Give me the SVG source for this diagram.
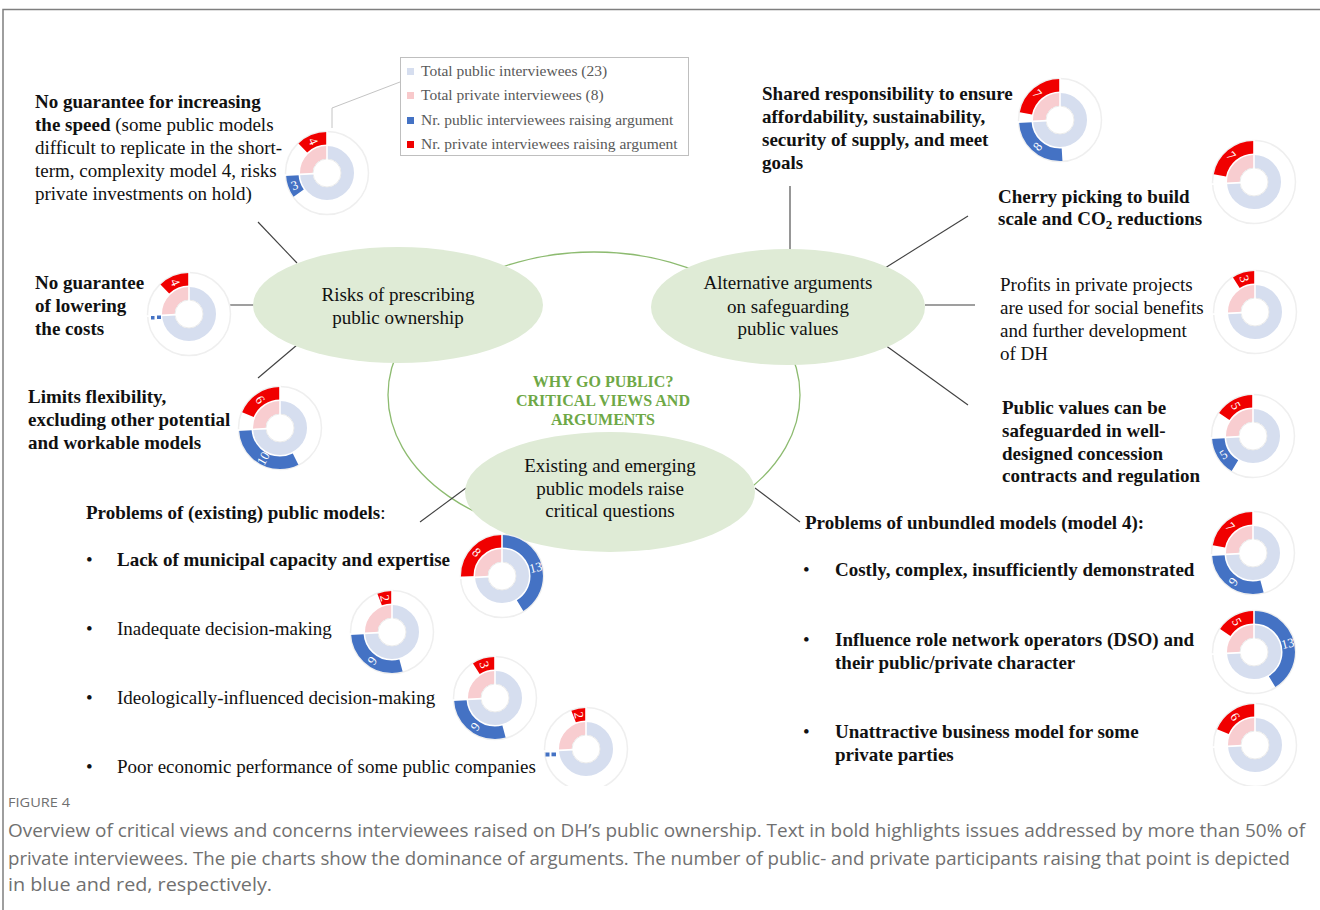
<svg xmlns="http://www.w3.org/2000/svg" xmlns:xlink="http://www.w3.org/1999/xlink" width="1320" height="910" viewBox="0 0 1320 910">
  <style>
    .t { font-family: "Liberation Serif", "Times New Roman", serif; font-size: 19px; fill: #111; }
    .b { font-weight: bold; }
    .c { text-anchor: middle; }
    .green { fill: #6EA846; font-size: 16px; font-weight: bold; }
    .leg { font-family: "Liberation Serif", "Times New Roman", serif; font-size: 15.5px; fill: #595959; }
    .lbl { font-family: "Liberation Serif", "Times New Roman", serif; font-size: 13px; fill: #fff; text-anchor: middle; dominant-baseline: central; }
    .conn { stroke: #404040; stroke-width: 1.1; fill: none; }
    .hub { fill: #DFEBD6; }
    .ring { fill: none; stroke-width: 12.5; }
    .red { stroke: #F00000; }
    .blue { stroke: #4472C4; }
    .cap { font-family: "Open Sans", "Liberation Sans", sans-serif; fill: #707070; }
  </style>
  <defs>
    <clipPath id="fig-area"><rect x="0" y="0" width="1320" height="786"/></clipPath>
    <!-- doughnut base: faint outline, inner ring (public 23 / private 8) and hole -->
    <g id="donut-base">
      <circle r="41.5" fill="#fff" stroke="#efefef" stroke-width="1.5"/>
      <circle r="20.5" fill="none" stroke="#D6DEEF" stroke-width="13" pathLength="31" stroke-dasharray="23 8" transform="rotate(-90)"/>
      <circle r="20.5" fill="none" stroke="#F8CDD0" stroke-width="13" pathLength="31" stroke-dasharray="8 23" stroke-dashoffset="-23" transform="rotate(-90)"/>
      <circle r="14" fill="#fff" stroke="#ebebeb" stroke-width="1"/>
    </g>
    <!-- white separators at 12 o'clock and at the public/private boundary -->
    <g id="donut-sep" stroke="#fff" stroke-width="1.6">
      <line x1="0" y1="-13" x2="0" y2="-42.5"/>
      <line x1="-12.98" y1="0.66" x2="-42.45" y2="2.15"/>
    </g>
  </defs>

  <rect width="1320" height="910" fill="#fff"/>
  <!-- figure frame -->
  <path d="M3,910 V9.5 H1320" fill="none" stroke="#7f7f7f" stroke-width="1.5"/>

  <g clip-path="url(#fig-area)">
    <!-- connectors -->
    <g id="connectors">
      <ellipse cx="594" cy="395" rx="206" ry="143" fill="none" stroke="#8DBB70" stroke-width="1.3"/>
      <line class="conn" x1="258" y1="222" x2="297" y2="263"/>
      <line class="conn" x1="220" y1="305" x2="254" y2="305"/>
      <line class="conn" x1="258" y1="378" x2="297" y2="345"/>
      <line class="conn" x1="790" y1="186" x2="790" y2="251"/>
      <line class="conn" x1="885" y1="268" x2="968" y2="216"/>
      <line class="conn" x1="925" y1="305" x2="975" y2="305"/>
      <line class="conn" x1="885" y1="345" x2="968" y2="405"/>
      <line class="conn" x1="420" y1="522" x2="466" y2="488"/>
      <line class="conn" x1="755" y1="488" x2="800" y2="522"/>
      <polyline points="400,82 332,108 332,128" fill="none" stroke="#c4c4c4" stroke-width="1"/>
    </g>

    <!-- hub ellipses -->
    <g id="node-risks">
      <ellipse class="hub" cx="398" cy="305" rx="145" ry="58"/>
      <text class="t c" x="398" y="301">Risks of prescribing</text>
      <text class="t c" x="398" y="324">public ownership</text>
    </g>
    <g id="node-alternative">
      <ellipse class="hub" cx="788" cy="307" rx="137" ry="58"/>
      <text class="t c" x="788" y="289">Alternative arguments</text>
      <text class="t c" x="788" y="313">on safeguarding</text>
      <text class="t c" x="788" y="335">public values</text>
    </g>
    <g id="node-existing">
      <ellipse class="hub" cx="610" cy="492" rx="145" ry="60"/>
      <text class="t c" x="610" y="472">Existing and emerging</text>
      <text class="t c" x="610" y="495">public models raise</text>
      <text class="t c" x="610" y="517">critical questions</text>
    </g>
    <g id="node-title">
      <text class="t c green" x="603" y="387">WHY GO PUBLIC?</text>
      <text class="t c green" x="603" y="406">CRITICAL VIEWS AND</text>
      <text class="t c green" x="603" y="425">ARGUMENTS</text>
    </g>

    <!-- legend -->
    <g id="legend">
      <rect x="400.5" y="57.5" width="288" height="98" fill="#fff" stroke="#bfbfbf" stroke-width="1"/>
      <rect x="407" y="68" width="7" height="7" fill="#D6DEEF"/>
      <rect x="407" y="92" width="7" height="7" fill="#F8C9CB"/>
      <rect x="407" y="117" width="7" height="7" fill="#4472C4"/>
      <rect x="407" y="141" width="7" height="7" fill="#F00000"/>
      <text class="leg" x="421" y="76">Total public interviewees (23)</text>
      <text class="leg" x="421" y="100">Total private interviewees (8)</text>
      <text class="leg" x="421" y="125">Nr. public interviewees raising argument</text>
      <text class="leg" x="421" y="149">Nr. private interviewees raising argument</text>
    </g>

    <!-- left-hand risks -->
    <g id="node-speed">
      <text class="t b" x="35" y="108">No guarantee for increasing</text>
      <text class="t" x="35" y="131"><tspan class="b">the speed</tspan> (some public models</text>
      <text class="t" x="35" y="154">difficult to replicate in the short-</text>
      <text class="t" x="35" y="177">term, complexity model 4, risks</text>
      <text class="t" x="35" y="200">private investments on hold)</text>
      <g transform="translate(327,173)">
        <use xlink:href="#donut-base"/>
        <circle class="ring red" r="34.75" pathLength="31" stroke-dasharray="3.8 27.2" stroke-dashoffset="3.8" transform="rotate(-90)"/>
        <circle class="ring blue" r="34.75" pathLength="31" stroke-dasharray="2.8 28.2" stroke-dashoffset="-20.2" transform="rotate(-90)"/>
        <use xlink:href="#donut-sep"/>
        <text class="lbl" transform="translate(-13.7,-31.9) rotate(66.8)">4</text>
        <text class="lbl" transform="translate(-32.6,12.1) rotate(-20.3)">3</text>
      </g>
    </g>
    <g id="node-costs">
      <text class="t b" x="35" y="289">No guarantee</text>
      <text class="t b" x="35" y="312">of lowering</text>
      <text class="t b" x="35" y="335">the costs</text>
      <g transform="translate(189,314)">
        <use xlink:href="#donut-base"/>
        <circle class="ring red" r="34.75" pathLength="31" stroke-dasharray="3.8 27.2" stroke-dashoffset="3.8" transform="rotate(-90)"/>
        <use xlink:href="#donut-sep"/>
        <text class="lbl" transform="translate(-13.7,-31.9) rotate(66.8)">4</text>
        <rect x="-38" y="2" width="3.5" height="3.5" fill="#4472C4"/>
        <rect x="-32" y="1.5" width="4" height="3.5" fill="#4472C4"/>
      </g>
    </g>
    <g id="node-flexibility">
      <text class="t b" x="28" y="403">Limits flexibility,</text>
      <text class="t b" x="28" y="426">excluding other potential</text>
      <text class="t b" x="28" y="449">and workable models</text>
      <g transform="translate(280,428)">
        <use xlink:href="#donut-base"/>
        <circle class="ring red" r="34.75" pathLength="31" stroke-dasharray="5.8 25.2" stroke-dashoffset="5.8" transform="rotate(-90)"/>
        <circle class="ring blue" r="34.75" pathLength="31" stroke-dasharray="9.8 21.2" stroke-dashoffset="-13.2" transform="rotate(-90)"/>
        <use xlink:href="#donut-sep"/>
        <text class="lbl" transform="translate(-19.8,-28.5) rotate(55.2)">6</text>
        <text class="lbl" transform="translate(-16.9,30.4) rotate(-61)">10</text>
      </g>
    </g>

    <!-- right-hand alternative arguments -->
    <g id="node-shared">
      <text class="t b" x="762" y="100">Shared responsibility to ensure</text>
      <text class="t b" x="762" y="123">affordability, sustainability,</text>
      <text class="t b" x="762" y="146">security of supply, and meet</text>
      <text class="t b" x="762" y="169">goals</text>
      <g transform="translate(1060,120)">
        <use xlink:href="#donut-base"/>
        <circle class="ring red" r="34.75" pathLength="31" stroke-dasharray="6.8 24.2" stroke-dashoffset="6.8" transform="rotate(-90)"/>
        <circle class="ring blue" r="34.75" pathLength="31" stroke-dasharray="7.8 23.2" stroke-dashoffset="-15.2" transform="rotate(-90)"/>
        <use xlink:href="#donut-sep"/>
        <text class="lbl" transform="translate(-22.6,-26.4) rotate(49.4)">7</text>
        <text class="lbl" transform="translate(-22.6,26.4) rotate(-49.4)">8</text>
      </g>
    </g>
    <g id="node-cherry">
      <text class="t b" x="998" y="203">Cherry picking to build</text>
      <text class="t b" x="998" y="225">scale and CO<tspan font-size="13" dy="4">2</tspan><tspan dy="-4"> reductions</tspan></text>
      <g transform="translate(1254,182)">
        <use xlink:href="#donut-base"/>
        <circle class="ring red" r="34.75" pathLength="31" stroke-dasharray="6.8 24.2" stroke-dashoffset="6.8" transform="rotate(-90)"/>
        <use xlink:href="#donut-sep"/>
        <text class="lbl" transform="translate(-22.6,-26.4) rotate(49.4)">7</text>
      </g>
    </g>
    <g id="node-profits">
      <text class="t" x="1000" y="291">Profits in private projects</text>
      <text class="t" x="1000" y="314">are used for social benefits</text>
      <text class="t" x="1000" y="337">and further development</text>
      <text class="t" x="1000" y="360">of DH</text>
      <g transform="translate(1255,312)">
        <use xlink:href="#donut-base"/>
        <circle class="ring red" r="34.75" pathLength="31" stroke-dasharray="2.8 28.2" stroke-dashoffset="2.8" transform="rotate(-90)"/>
        <use xlink:href="#donut-sep"/>
        <text class="lbl" transform="translate(-10.4,-33.2) rotate(72.6)">3</text>
      </g>
    </g>
    <g id="node-contracts">
      <text class="t b" x="1002" y="414">Public values can be</text>
      <text class="t b" x="1002" y="437">safeguarded in well-</text>
      <text class="t b" x="1002" y="460">designed concession</text>
      <text class="t b" x="1002" y="482">contracts and regulation</text>
      <g transform="translate(1253,436)">
        <use xlink:href="#donut-base"/>
        <circle class="ring red" r="34.75" pathLength="31" stroke-dasharray="4.8 26.2" stroke-dashoffset="4.8" transform="rotate(-90)"/>
        <circle class="ring blue" r="34.75" pathLength="31" stroke-dasharray="4.8 26.2" stroke-dashoffset="-18.2" transform="rotate(-90)"/>
        <use xlink:href="#donut-sep"/>
        <text class="lbl" transform="translate(-16.9,-30.4) rotate(61)">5</text>
        <text class="lbl" transform="translate(-29.5,18.4) rotate(-31.9)">5</text>
      </g>
    </g>

    <!-- problems of existing public models -->
    <g id="node-public-models">
      <text class="t" x="86" y="519"><tspan class="b">Problems of (existing) public models</tspan>:</text>
    </g>
    <g id="node-capacity">
      <text class="t" x="86" y="566">•</text>
      <text class="t b" x="117" y="566">Lack of municipal capacity and expertise</text>
      <g transform="translate(502,576)">
        <use xlink:href="#donut-base"/>
        <circle class="ring red" r="34.75" pathLength="31" stroke-dasharray="7.8 23.2" stroke-dashoffset="7.8" transform="rotate(-90)"/>
        <circle class="ring blue" r="34.75" pathLength="31" stroke-dasharray="12.8 18.2" stroke-dashoffset="0" transform="rotate(-90)"/>
        <use xlink:href="#donut-sep"/>
        <text class="lbl" transform="translate(-25.2,-23.9) rotate(43.5)">8</text>
        <text class="lbl" transform="translate(33.6,-8.7) rotate(-14.5)">13</text>
      </g>
    </g>
    <g id="node-inadequate">
      <text class="t" x="86" y="635">•</text>
      <text class="t" x="117" y="635">Inadequate decision-making</text>
      <g transform="translate(392,632)">
        <use xlink:href="#donut-base"/>
        <circle class="ring red" r="34.75" pathLength="31" stroke-dasharray="1.8 29.2" stroke-dashoffset="1.8" transform="rotate(-90)"/>
        <circle class="ring blue" r="34.75" pathLength="31" stroke-dasharray="8.8 22.2" stroke-dashoffset="-14.2" transform="rotate(-90)"/>
        <use xlink:href="#donut-sep"/>
        <text class="lbl" transform="translate(-7,-34) rotate(78.4)">2</text>
        <text class="lbl" transform="translate(-19.8,28.5) rotate(-55.2)">9</text>
      </g>
    </g>
    <g id="node-ideological">
      <text class="t" x="86" y="704">•</text>
      <text class="t" x="117" y="704">Ideologically-influenced decision-making</text>
      <g transform="translate(495,698)">
        <use xlink:href="#donut-base"/>
        <circle class="ring red" r="34.75" pathLength="31" stroke-dasharray="2.8 28.2" stroke-dashoffset="2.8" transform="rotate(-90)"/>
        <circle class="ring blue" r="34.75" pathLength="31" stroke-dasharray="8.8 22.2" stroke-dashoffset="-14.2" transform="rotate(-90)"/>
        <use xlink:href="#donut-sep"/>
        <text class="lbl" transform="translate(-10.4,-33.2) rotate(72.6)">3</text>
        <text class="lbl" transform="translate(-19.8,28.5) rotate(-55.2)">9</text>
      </g>
    </g>
    <g id="node-performance">
      <text class="t" x="86" y="773">•</text>
      <text class="t" x="117" y="773">Poor economic performance of some public companies</text>
      <g transform="translate(586,749)">
        <use xlink:href="#donut-base"/>
        <circle class="ring red" r="34.75" pathLength="31" stroke-dasharray="1.8 29.2" stroke-dashoffset="1.8" transform="rotate(-90)"/>
        <use xlink:href="#donut-sep"/>
        <text class="lbl" transform="translate(-7,-34) rotate(78.4)">2</text>
        <rect x="-40.5" y="3.5" width="4" height="4" fill="#4472C4"/>
        <rect x="-34.5" y="3.5" width="4.5" height="3.8" fill="#4472C4"/>
      </g>
    </g>

    <!-- problems of unbundled models -->
    <g id="node-unbundled">
      <text class="t b" x="805" y="529">Problems of unbundled models (model 4):</text>
    </g>
    <g id="node-costly">
      <text class="t" x="803" y="576">•</text>
      <text class="t b" x="835" y="576">Costly, complex, insufficiently demonstrated</text>
      <g transform="translate(1253,553)">
        <use xlink:href="#donut-base"/>
        <circle class="ring red" r="34.75" pathLength="31" stroke-dasharray="6.8 24.2" stroke-dashoffset="6.8" transform="rotate(-90)"/>
        <circle class="ring blue" r="34.75" pathLength="31" stroke-dasharray="8.8 22.2" stroke-dashoffset="-14.2" transform="rotate(-90)"/>
        <use xlink:href="#donut-sep"/>
        <text class="lbl" transform="translate(-22.6,-26.4) rotate(49.4)">7</text>
        <text class="lbl" transform="translate(-19.8,28.5) rotate(-55.2)">9</text>
      </g>
    </g>
    <g id="node-dso">
      <text class="t" x="803" y="646">•</text>
      <text class="t b" x="835" y="646">Influence role network operators (DSO) and</text>
      <text class="t b" x="835" y="669">their public/private character</text>
      <g transform="translate(1254,652)">
        <use xlink:href="#donut-base"/>
        <circle class="ring red" r="34.75" pathLength="31" stroke-dasharray="4.8 26.2" stroke-dashoffset="4.8" transform="rotate(-90)"/>
        <circle class="ring blue" r="34.75" pathLength="31" stroke-dasharray="12.8 18.2" stroke-dashoffset="0" transform="rotate(-90)"/>
        <use xlink:href="#donut-sep"/>
        <text class="lbl" transform="translate(-16.9,-30.4) rotate(61)">5</text>
        <text class="lbl" transform="translate(33.6,-8.7) rotate(-14.5)">13</text>
      </g>
    </g>
    <g id="node-business">
      <text class="t" x="803" y="738">•</text>
      <text class="t b" x="835" y="738">Unattractive business model for some</text>
      <text class="t b" x="835" y="761">private parties</text>
      <g transform="translate(1255,745)">
        <use xlink:href="#donut-base"/>
        <circle class="ring red" r="34.75" pathLength="31" stroke-dasharray="5.8 25.2" stroke-dashoffset="5.8" transform="rotate(-90)"/>
        <use xlink:href="#donut-sep"/>
        <text class="lbl" transform="translate(-19.8,-28.5) rotate(55.2)">6</text>
      </g>
    </g>
  </g>

  <!-- caption -->
  <g id="caption">
    <text class="cap" x="8" y="807" font-size="13" textLength="62" lengthAdjust="spacingAndGlyphs">FIGURE 4</text>
    <text class="cap" x="8" y="837" font-size="19" textLength="1297" lengthAdjust="spacingAndGlyphs">Overview of critical views and concerns interviewees raised on DH’s public ownership. Text in bold highlights issues addressed by more than 50% of</text>
    <text class="cap" x="8" y="865" font-size="19" textLength="1282" lengthAdjust="spacingAndGlyphs">private interviewees. The pie charts show the dominance of arguments. The number of public- and private participants raising that point is depicted</text>
    <text class="cap" x="8" y="891" font-size="19" textLength="264" lengthAdjust="spacingAndGlyphs">in blue and red, respectively.</text>
  </g>
</svg>
